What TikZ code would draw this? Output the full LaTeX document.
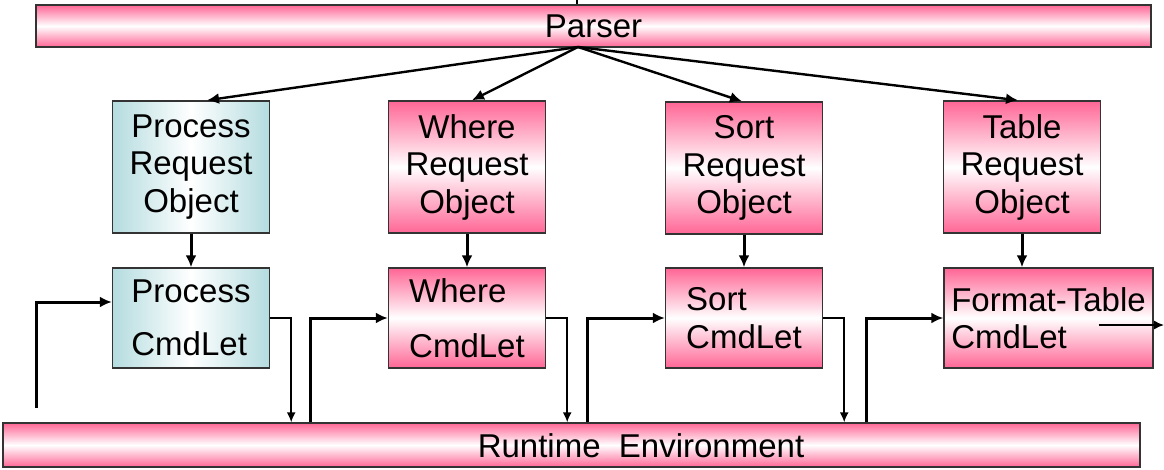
\documentclass[tikz,border=0pt]{standalone}
\usepackage{fontspec}
\setmainfont{Liberation Sans}
\usepackage{xcolor}
\usetikzlibrary{arrows.meta,positioning,calc}
\definecolor{rose}{RGB}{255,102,150}
\definecolor{aqua}{RGB}{180,220,223}
\tikzset{
  >={Latex[length=12pt, width=11pt]},
  bar/.style={draw=black!80, line width=1.4pt, rectangle, inner sep=0pt,
    top color=rose, bottom color=rose, middle color=white,
    font=\fontsize{33}{37.5}\selectfont},
  reqbox/.style={bar, minimum width=157, minimum height=132, align=center},
  cmdbox/.style={bar, minimum width=157, minimum height=100, align=left},
  tealbox/.style={left color=aqua, right color=aqua, middle color=white},
  fat/.style={->, line width=3pt},
  slim/.style={-{Latex[length=10pt, width=9pt]}, line width=1.5pt},
}

\begin{document}
\begin{tikzpicture}[x=1pt, y=-1pt]
  \tikzset{
    fan/.style={->, line width=2.4pt},
    txt/.style={font=\fontsize{33}{37.5}\selectfont}
  }
  \useasboundingbox (0,0) rectangle (1164,470);

  % bars
  \node[bar, minimum width=1115, minimum height=42] (parser) at (593.5,26) {Parser};
  \node[bar, minimum width=1137, minimum height=44] (rte) at (571.5,445) {};
  \node[txt] (rtetext) at (641,446) {Runtime\ \ Environment};

  % request objects
  \node[reqbox, tealbox] (procreq) at (191,167) {Process\\Request\\Object};
  \node[reqbox] (wherereq) at (467,167) {Where\\Request\\Object};
  \node[reqbox] (sortreq) at (744,168) {Sort\\Request\\Object};
  \node[reqbox] (tablereq) at (1022,167) {Table\\Request\\Object};

  % cmdlets
  \node[cmdbox, tealbox] (proccmd) at (191,318) {Process\\[16pt]CmdLet};
  \node[cmdbox] (wherecmd) at (467,318) {Where\\[17pt]CmdLet};
  \node[cmdbox] (sortcmd) at (744,318) {Sort\\CmdLet};
  \node[cmdbox, minimum width=209] (fmtcmd) at (1048.5,318) {Format-Table\\CmdLet};

  % parser fan-out
  \coordinate (intop) at (577,0);
  \coordinate (fork) at (578,47);
  \draw[line width=1.2pt] (intop) -- (intop |- parser.north);
  \foreach \n/\dx in {procreq/16, wherereq/5, sortreq/-2, tablereq/-4}
    \draw[fan] (fork) -- ($(\n.north)+(\dx,0)$);

  % request -> cmdlet
  \foreach \a/\b in {procreq/proccmd, wherereq/wherecmd, sortreq/sortcmd, tablereq/fmtcmd}
    \draw[fat] (\a.south) -- (\a.south |- \b.north);

  % pipeline through the runtime
  \coordinate (lin) at (36,408);
  \draw[fat] (lin) |- ($(proccmd.west)+(0,-16)$);
  \foreach \a/\b in {proccmd/wherecmd, wherecmd/sortcmd, sortcmd/fmtcmd} {
    \draw[slim] (\a.east) -| ($(\a.east |- rte.north)+(21,0)$);
    \draw[fat] ($(\b.west |- rte.north)+(-77,0)$) |- (\b.west);
  }
  \coordinate (out) at (1164,325);
  \draw[slim] ($(fmtcmd.east |- out)+(-55,0)$) -- (out);
\end{tikzpicture}
\end{document}
